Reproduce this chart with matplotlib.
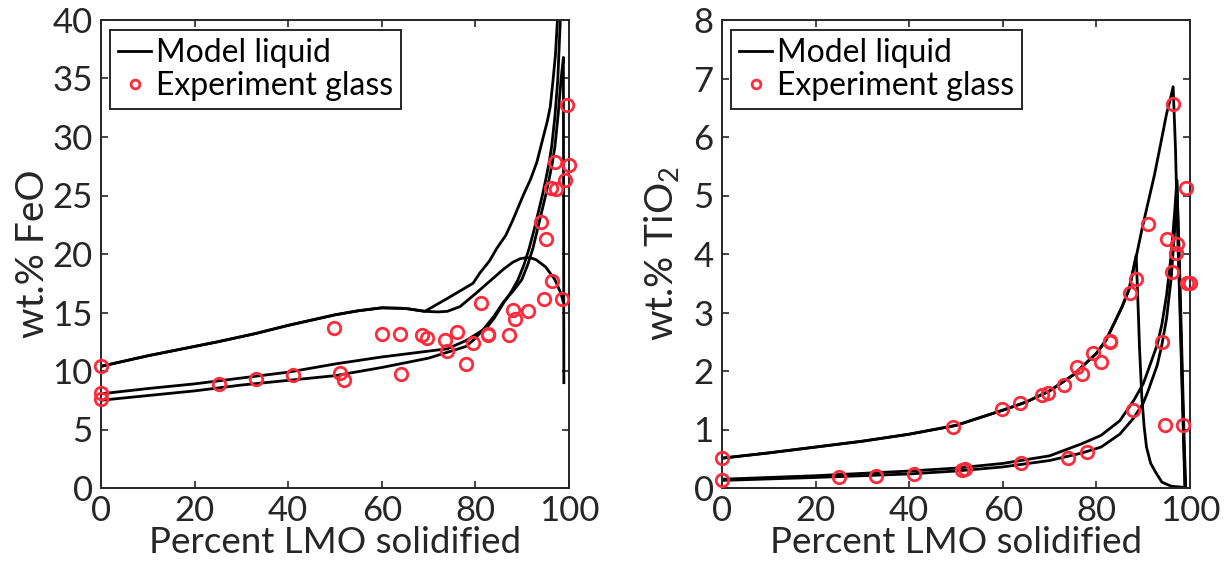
import numpy as np
import matplotlib
matplotlib.use("Agg")
import matplotlib.pyplot as plt

# ---- FeO panel: model liquid curves ----
feo_a_x = [0, 10, 25, 33, 40, 50, 55, 60, 65, 69.2, 74, 79.5, 81, 83, 84.6, 86.5, 88, 90.2, 91.8, 93.1, 94.5, 95.4, 96, 96.6, 97.1, 97.6]
feo_a_y = [10.4, 11.3, 12.5, 13.2, 13.9, 14.8, 15.15, 15.4, 15.35, 15.1, 16.2, 17.5, 18.4, 19.4, 20.5, 21.6, 22.9, 25.0, 26.4, 27.8, 30.0, 31.4, 32.6, 34.9, 37.0, 40.5]
feo_b_x = [0, 10, 25, 33, 40, 50, 55, 60, 65, 69.2, 72, 74, 76.7, 80, 84, 86, 88, 89.6, 91, 92, 93, 95, 97, 98.3, 98.7]
feo_b_y = [10.4, 11.3, 12.5, 13.2, 13.9, 14.8, 15.15, 15.4, 15.35, 15.1, 15.05, 15.1, 15.5, 16.6, 18.0, 18.7, 19.3, 19.6, 19.7, 19.65, 19.5, 18.9, 17.8, 16.6, 16.0]
feo_c_x = [0, 10, 20, 30, 40, 50, 60, 70, 74, 78, 80, 82.4, 84, 86, 87.7, 89.1, 90.4, 91.5, 92.5, 93.4, 94.3, 95, 95.7, 96.3, 97, 97.6, 98.2]
feo_c_y = [8.05, 8.5, 8.9, 9.4, 9.9, 10.6, 11.2, 11.7, 11.9, 12.6, 13.1, 13.7, 14.5, 15.8, 16.8, 17.8, 19.1, 20.5, 22.0, 23.5, 25.0, 26.3, 27.7, 29.2, 31.8, 34.9, 40.5]
feo_d_x = [0, 10, 20, 30, 40, 50, 60, 70, 78, 80, 82, 84, 86, 88, 89.9, 91.2, 92.3, 93.2, 94.1, 95, 95.7, 96.4, 97.0, 97.7, 98.3, 98.8, 98.9]
feo_d_y = [7.5, 7.9, 8.3, 8.8, 9.2, 9.6, 10.3, 11.1, 12.1, 12.8, 13.7, 14.7, 15.9, 16.8, 17.8, 19.1, 20.5, 22.0, 23.5, 25.0, 26.3, 27.7, 29.2, 32.0, 34.9, 36.8, 9.0]

# ---- FeO panel: experiment glass ----
feo_exp_x = [0.1, 0.1, 0.1, 25.2, 33.1, 41.0, 49.7, 51.1, 52.0, 60.1, 63.9, 64.0, 68.5, 69.6, 73.4,
             74.0, 76.0, 78.0, 79.4, 81.1, 82.6, 82.7, 87.2, 88.0, 88.5, 91.2, 94.0, 95.0, 94.6, 96.4,
             96.1, 97.2, 97.1, 99.1, 100.0, 99.6, 98.6]
feo_exp_y = [10.45, 8.15, 7.6, 8.9, 9.3, 9.7, 13.65, 9.8, 9.2, 13.2, 13.2, 9.75, 13.1, 12.8, 12.65,
             11.7, 13.3, 10.6, 12.4, 15.8, 13.2, 13.05, 13.1, 15.2, 14.45, 15.15, 22.7, 21.3, 16.15, 17.7,
             25.6, 25.55, 27.9, 26.35, 27.6, 32.7, 16.15]

# ---- TiO2 panel: model liquid curves ----
ti_a_x = [0, 10, 20, 30, 40, 50, 60, 65, 70, 75, 80, 82, 84, 85.5, 87, 88.5, 89.7, 91.1, 92.4, 93.6, 95.0, 95.8, 96.4, 96.9, 97.3, 97.8, 98.2, 98.6, 98.9]
ti_a_y = [0.51, 0.6, 0.7, 0.8, 0.92, 1.07, 1.33, 1.47, 1.66, 1.93, 2.3, 2.52, 2.85, 3.1, 3.4, 3.95, 4.41, 4.9, 5.35, 5.83, 6.4, 6.65, 6.86, 5.8, 4.5, 3.2, 2.0, 0.9, 0.0]
ti_b_x = [0, 10, 20, 30, 40, 50, 60, 65, 70, 75, 80, 82, 84, 85.5, 87, 88.5, 88.7, 89.0, 89.2, 89.7, 90.2, 90.7, 91.6, 92.8, 94.0, 96.0, 98.8]
ti_b_y = [0.51, 0.6, 0.7, 0.8, 0.92, 1.07, 1.33, 1.47, 1.66, 1.93, 2.3, 2.52, 2.85, 3.1, 3.4, 3.98, 3.56, 2.9, 2.42, 1.56, 1.05, 0.7, 0.42, 0.25, 0.1, 0.03, 0.01]
ti_c_x = [0, 20, 40, 50, 60, 70, 77, 81, 85, 88, 90, 91, 93, 94, 95, 96, 96.8, 97.2, 97.6, 98.2, 98.7, 99.0]
ti_c_y = [0.15, 0.21, 0.29, 0.34, 0.42, 0.55, 0.76, 0.9, 1.15, 1.5, 1.78, 2.0, 2.45, 2.8, 3.3, 4.0, 4.8, 5.26, 4.0, 2.2, 0.7, 0.0]
ti_d_x = [0, 20, 40, 50, 60, 70, 77, 81, 85, 88, 90, 91, 93, 94, 95, 96, 96.8, 97.2, 97.7, 98.3, 98.8, 99.1]
ti_d_y = [0.13, 0.18, 0.24, 0.29, 0.36, 0.47, 0.6, 0.7, 0.92, 1.2, 1.45, 1.65, 2.1, 2.45, 2.9, 3.6, 4.5, 5.2, 4.0, 2.2, 0.7, 0.0]

# ---- TiO2 panel: experiment glass ----
ti_exp_x = [0.1, 0.1, 25.1, 32.8, 41.1, 49.4, 51.2, 51.9, 59.9, 63.7, 63.9, 68.3, 69.7, 73.1, 73.9,
            75.9, 76.9, 77.9, 79.2, 81.0, 82.8, 82.9, 87.2, 87.9, 88.5, 91.0, 94.0, 94.7, 95.0, 96.1,
            96.4, 97.0, 97.2, 98.6, 99.1, 99.4, 100.0]
ti_exp_y = [0.51, 0.14, 0.18, 0.2, 0.24, 1.05, 0.31, 0.32, 1.35, 1.45, 0.42, 1.59, 1.62, 1.76, 0.51,
            2.07, 1.95, 0.62, 2.3, 2.16, 2.52, 2.5, 3.33, 1.33, 3.58, 4.51, 2.5, 1.08, 4.25, 3.7,
            6.56, 4.01, 4.17, 1.08, 5.12, 3.5, 3.5]

x_ticks = [0, 20, 40, 60, 80, 100]
feo_ticks = [0, 5, 10, 15, 20, 25, 30, 35, 40]
ti_ticks = [0, 1, 2, 3, 4, 5, 6, 7, 8]

plt.rcParams.update({'font.family': ['Lato', 'DejaVu Sans'],
                     'mathtext.fontset': 'custom',
                     'mathtext.rm': 'Lato',
                     'font.size': 25,
                     'axes.linewidth': 1.4,
                     'axes.edgecolor': '#262626',
                     'xtick.color': '#262626',
                     'ytick.color': '#262626',
                     'xtick.direction': 'in',
                     'ytick.direction': 'in',
                     'xtick.top': True,
                     'ytick.right': True,
                     'xtick.major.size': 5,
                     'ytick.major.size': 5,
                     'xtick.major.width': 1.2,
                     'ytick.major.width': 1.2,
                     'xtick.major.pad': 5,
                     'ytick.major.pad': 6})

red = '#ff2a3a'

fig = plt.figure(figsize=(12.28, 5.74), dpi=100)
ax1 = fig.add_axes([101 / 1228, 86 / 574, 468 / 1228, 468 / 574])
ax2 = fig.add_axes([722 / 1228, 86 / 574, 468 / 1228, 468 / 574])


def panel(ax, curves, ex, ey, yticks, ylabel, ypad):
    for i, (cx, cy) in enumerate(curves):
        ax.plot(cx, cy, color='black', lw=2, label='Model liquid' if i == 0 else None,
                solid_joinstyle='round', zorder=2)
    ax.plot(ex, ey, ls='none', marker='o', ms=9, mfc='none', mec=red, mew=2,
            label='Experiment glass', zorder=3, clip_on=False)
    ax.set_xlim(0, 100)
    ax.set_ylim(yticks[0], yticks[-1])
    ax.set_xticks(x_ticks)
    ax.set_yticks(yticks)
    ax.set_xlabel('Percent LMO solidified', fontsize=26.5, color='#262626', labelpad=-1)
    ax.set_ylabel(ylabel, fontsize=28, color='#262626', labelpad=ypad)
    leg = ax.legend(loc='upper left', bbox_to_anchor=(0.019, 0.979), borderaxespad=0,
                    fontsize=23, handlelength=1.05, handletextpad=0.15, labelspacing=0.1,
                    borderpad=0.25, fancybox=False, framealpha=1, markerscale=0.7)
    leg.get_frame().set_edgecolor('#262626')
    leg.get_frame().set_linewidth(1.4)


panel(ax1, [(feo_a_x, feo_a_y), (feo_b_x, feo_b_y), (feo_c_x, feo_c_y), (feo_d_x, feo_d_y)],
      feo_exp_x, feo_exp_y, feo_ticks, 'wt.% FeO', 1)
panel(ax2, [(ti_a_x, ti_a_y), (ti_b_x, ti_b_y), (ti_c_x, ti_c_y), (ti_d_x, ti_d_y)],
      ti_exp_x, ti_exp_y, ti_ticks, 'wt.% TiO$_2$', 8)

fig.savefig('out.png', dpi=100)
